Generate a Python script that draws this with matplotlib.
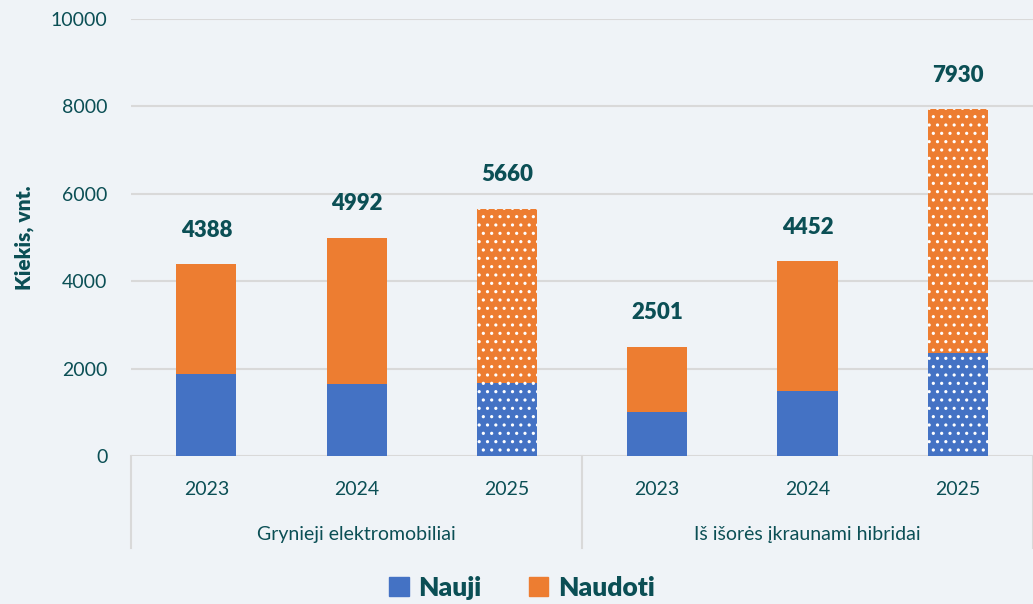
import matplotlib.pyplot as plt
import numpy as np
from matplotlib.patches import Patch

# duomenys
groups = ['Grynieji elektromobiliai', 'Iš išorės įkraunami hibridai']
years = ['2023', '2024', '2025', '2023', '2024', '2025']
totals = [4388, 4992, 5660, 2501, 4452, 7930]
nauji = [1880, 1650, 1680, 1000, 1490, 2360]
naudoti = [t - n for t, n in zip(totals, nauji)]
forecast = [False, False, True, False, False, True]

bg = '#EFF3F7'
txt = '#0B4F55'
blue = '#4472C4'
orange = '#ED7D31'

plt.rcParams['font.family'] = ['Lato', 'DejaVu Sans']
plt.rcParams['hatch.linewidth'] = 1.1

fig = plt.figure(figsize=(10.33, 6.04), dpi=100, facecolor=bg)
ax = fig.add_axes([0.127, 0.245, 0.873, 0.7235], facecolor=bg)

x = np.arange(len(years))
w = 0.4
for i in range(len(x)):
    h = '..' if forecast[i] else None
    ax.bar(x[i], nauji[i], w, color=blue, hatch=h, edgecolor='white', linewidth=0, zorder=3)
    ax.bar(x[i], naudoti[i], w, bottom=nauji[i], color=orange, hatch=h,
           edgecolor='white', linewidth=0, zorder=3)
    ax.annotate(str(totals[i]), (x[i], totals[i]), xytext=(0, 17), textcoords='offset points',
                ha='center', va='bottom', fontsize=16, fontweight='heavy', color=txt)

ax.set_ylim(0, 10000)
ax.set_xlim(-0.5, 5.5)
ax.set_yticks(np.arange(0, 10001, 2000))
ax.yaxis.grid(True, color='#D9D9D9', linewidth=1.5, zorder=0)
ax.tick_params(axis='y', length=0, pad=17, labelsize=14, labelcolor=txt)
ax.set_xticks(x)
ax.set_xticklabels(years)
ax.tick_params(axis='x', length=0, pad=18, labelsize=14, labelcolor=txt)
for s in ax.spines.values():
    s.set_visible(False)
ax.set_ylabel('Kiekis, vnt.', fontsize=15, fontweight='heavy', color=txt, labelpad=12)

# grupių skirtukai ir pavadinimai
for sx in [-0.5, 2.5, 5.5]:
    ax.plot([sx, sx], [0, -0.21], transform=ax.get_xaxis_transform(), color='#D9D9D9',
            linewidth=1.5, clip_on=False)
for gi, g in enumerate(groups):
    ax.text(1 + 3 * gi, -0.18, g, transform=ax.get_xaxis_transform(), ha='center', va='center',
            fontsize=14, color=txt)

handles = [Patch(color=blue, label='Nauji'), Patch(color=orange, label='Naudoti')]
leg = fig.legend(handles=handles, loc='center', bbox_to_anchor=(0.505, 0.027), ncol=2,
                 frameon=False, handlelength=0.75, handleheight=0.75, handletextpad=0.35,
                 columnspacing=1.8, prop={'size': 19, 'weight': 'heavy'})
for t in leg.get_texts():
    t.set_color(txt)

fig.savefig('out.png', dpi=100, facecolor=bg)
